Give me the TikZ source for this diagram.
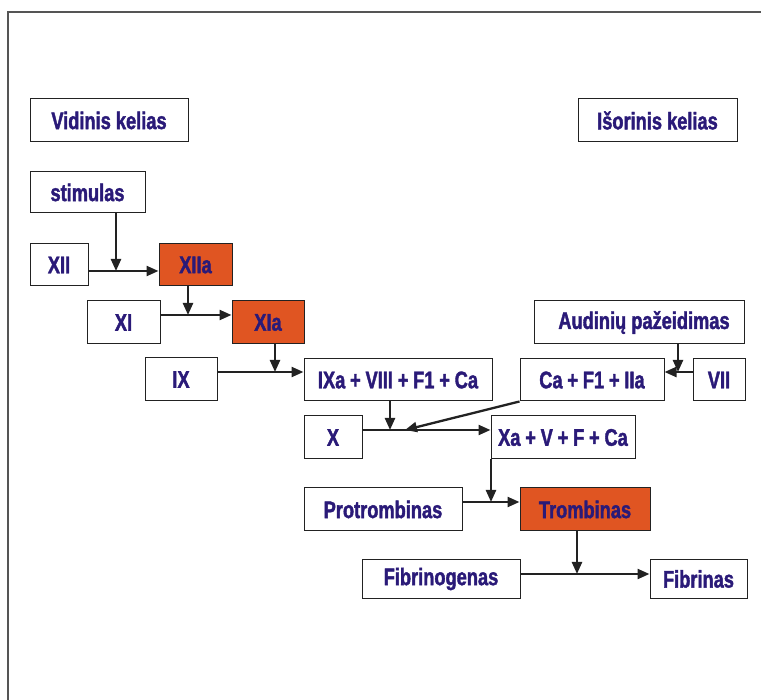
\documentclass[tikz,border=0pt]{standalone}
\usepackage{fontspec}
\setmainfont{Liberation Sans}[FakeStretch=0.76, FakeBold=1.6]
\usetikzlibrary{arrows.meta}
\definecolor{txtblue}{HTML}{2A1A78}
\definecolor{hot}{HTML}{E05522}
\definecolor{edge}{HTML}{222222}
\definecolor{framegray}{HTML}{555555}
\newcommand{\pl}{\hspace{0.2em}+\hspace{0.2em}}
\tikzset{
  box/.style={draw=edge, line width=1pt, fill=white, inner sep=0pt,
    text=txtblue, font=\fontsize{24}{26}\selectfont\bfseries},
  hotbox/.style={box, fill=hot},
  arr/.style={draw=edge, line width=2.3pt, -{Triangle[length=12pt,width=10pt]}},
}
\begin{document}
\begin{tikzpicture}[x=1pt,y=-1pt]
\useasboundingbox (0,0) rectangle (761,700);
% outer frame (left and top edges)
\draw[framegray, line width=1.5pt] (8,700) -- (8,12) -- (761,12);

% boxes
\node[box, minimum width=158pt, minimum height=43pt] (vid)  at (109,120.5) {Vidinis kelias};
\node[box, minimum width=159pt, minimum height=43pt] (isor) at (657.5,120.5) {Išorinis kelias};
\node[box, minimum width=115pt, minimum height=41pt] (stim) at (87.5,192.5) {stimulas};
\node[box, minimum width=58pt, minimum height=42pt] (xii)   at (59,265) {XII};
\node[hotbox, minimum width=73pt, minimum height=42pt] (xiia) at (195.5,265) {XIIa};
\node[box, minimum width=73pt, minimum height=43pt] (xi)    at (123.5,322.5) {XI};
\node[hotbox, minimum width=72pt, minimum height=43pt] (xia) at (268,322.5) {XIa};
\node[box, minimum width=72pt, minimum height=43pt] (ix)    at (181,379.5) {IX};
\node[box, minimum width=188pt, minimum height=42pt] (ixa)  at (398,380) {IXa\pl VIII\pl F1\pl Ca};
\node[box, minimum width=144pt, minimum height=42pt] (caf)  at (592,380) {Ca\pl F1\pl IIa};
\node[box, minimum width=52pt, minimum height=42pt] (vii)   at (719,380) {VII};
\node[box, minimum width=210pt, minimum height=43pt] (aud)  at (639,322.5) {\hspace{10pt}Audinių pažeidimas};
\node[box, minimum width=58pt, minimum height=43pt] (x)     at (333,437.5) {X};
\node[box, minimum width=144pt, minimum height=43pt] (xa)   at (563,437.5) {Xa\pl V\pl F\pl Ca};
\node[box, minimum width=158pt, minimum height=43pt] (prot) at (383,509.5) {Protrombinas};
\node[hotbox, minimum width=130pt, minimum height=43pt] (trom) at (585,509.5) {Trombinas};
\node[box, minimum width=158pt, minimum height=38pt] (fibg) at (441,579) {Fibrinogenas};
\node[box, minimum width=97pt, minimum height=38pt] (fib)   at (698.5,579) {Fibrinas};

% junction points on the horizontal connectors
\coordinate (j1) at (116,271);
\coordinate (j2) at (188,315);
\coordinate (j3) at (275,372);
\coordinate (j4) at (390,430);
\coordinate (j4b) at (405,430);
\coordinate (j5) at (678,372);
\coordinate (j6) at (491,502);
\coordinate (j7) at (577,574);

% connectors
\draw[arr] (xii.east |- j1) -- (xiia.west |- j1);
\draw[arr] (stim.south -| j1) -- (j1);

\draw[arr] (xi.east |- j2) -- (xia.west |- j2);
\draw[arr] (xiia.south -| j2) -- (j2);

\draw[arr] (ix.east |- j3) -- (ixa.west |- j3);
\draw[arr] (xia.south -| j3) -- (j3);

\draw[arr] (x.east |- j4) -- (xa.west |- j4);
\draw[arr] (ixa.south -| j4) -- (j4);
\draw[arr] (caf.south west) -- (j4b);

\draw[arr] (vii.west |- j5) -- (caf.east |- j5);
\draw[arr] (aud.south -| j5) -- (j5);

\draw[arr] (prot.east |- j6) -- (trom.west |- j6);
\draw[arr] (xa.south -| j6) -- (j6);

\draw[arr] (fibg.east |- j7) -- (fib.west |- j7);
\draw[arr] (trom.south -| j7) -- (j7);
\end{tikzpicture}
\end{document}
